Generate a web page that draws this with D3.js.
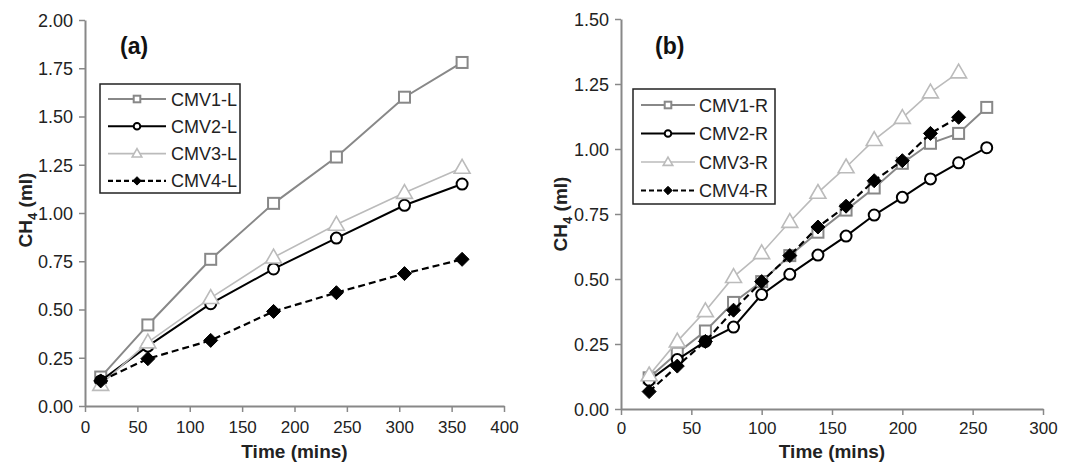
<!DOCTYPE html>
<html><head><meta charset="utf-8">
<script src="https://cdn.jsdelivr.net/npm/d3@7"></script>
<style>body{margin:0;background:#fff;}svg{display:block;font-family:Arial,"Liberation Sans",sans-serif;}</style>
</head><body>
<svg id="c" width="1070" height="462"></svg>
<script>
const timeL = [15, 60, 120, 180, 240, 305, 360];
const cmv1L = [0.15, 0.42, 0.76, 1.05, 1.29, 1.60, 1.78];
const cmv2L = [0.13, 0.31, 0.53, 0.71, 0.87, 1.04, 1.15];
const cmv3L = [0.11, 0.33, 0.56, 0.77, 0.94, 1.105, 1.235];
const cmv4L = [0.13, 0.245, 0.34, 0.49, 0.587, 0.686, 0.76];

const timeR = [20, 40, 60, 80, 100, 120, 140, 160, 180, 200, 220, 240, 260];
const cmv1R = [0.12, 0.215, 0.30, 0.41, 0.49, 0.59, 0.68, 0.765, 0.85, 0.945, 1.022, 1.06, 1.16];
const cmv2R = [0.11, 0.19, 0.26, 0.315, 0.44, 0.518, 0.592, 0.665, 0.746, 0.814, 0.885, 0.947, 1.005];
const cmv3R = [0.13, 0.26, 0.377, 0.508, 0.60, 0.72, 0.832, 0.93, 1.035, 1.12, 1.218, 1.295];
const cmv4R = [0.067, 0.165, 0.26, 0.38, 0.49, 0.59, 0.70, 0.78, 0.878, 0.955, 1.06, 1.122];

const xTicksL = [0, 50, 100, 150, 200, 250, 300, 350, 400];
const yTicksL = [0, 0.25, 0.5, 0.75, 1.0, 1.25, 1.5, 1.75, 2.0];
const xTicksR = [0, 50, 100, 150, 200, 250, 300];
const yTicksR = [0, 0.25, 0.5, 0.75, 1.0, 1.25, 1.5];

const styles = [
  {color:"#888888", width:2, dash:null, marker:"square"},
  {color:"#000000", width:2, dash:null, marker:"circle"},
  {color:"#bbbbbb", width:1.6, dash:null, marker:"triangle"},
  {color:"#000000", width:2.2, dash:"7,4", marker:"diamond"}
];

const svg = d3.select("#c");

function marker(g, type, color, x, y, big) {
  const s = big ? 1 : 0.6;
  if (type === "square") {
    g.append("rect").attr("x", x - 5.5*s).attr("y", y - 5.5*s).attr("width", 11*s).attr("height", 11*s)
      .attr("fill", "#fff").attr("stroke", color).attr("stroke-width", 2);
  } else if (type === "circle") {
    g.append("circle").attr("cx", x).attr("cy", y).attr("r", 5.5*s)
      .attr("fill", "#fff").attr("stroke", color).attr("stroke-width", 2);
  } else if (type === "triangle") {
    g.append("path").attr("d", d3.symbol().type(d3.symbolTriangle).size(110*s*s)())
      .attr("transform", `translate(${x},${y+1*s})`)
      .attr("fill", "#fff").attr("stroke", color).attr("stroke-width", 1.6);
  } else {
    const r = 7*s;
    g.append("path").attr("d", `M${x},${y-r}L${x+r},${y}L${x},${y+r}L${x-r},${y}Z`)
      .attr("fill", color).attr("stroke", color).attr("stroke-width", 1);
  }
}

function panel(opts) {
  const g = svg.append("g");
  const x = d3.scaleLinear().domain(opts.xDomain).range(opts.xRange);
  const y = d3.scaleLinear().domain(opts.yDomain).range(opts.yRange);

  const xa = g.append("g").attr("transform", `translate(0,${opts.yRange[0]})`)
    .call(d3.axisBottom(x).tickValues(opts.xTicks).tickSize(6).tickSizeOuter(0).tickFormat(d3.format("d")));
  const ya = g.append("g").attr("transform", `translate(${opts.xRange[0]},0)`)
    .call(d3.axisLeft(y).tickValues(opts.yTicks).tickSize(6).tickSizeOuter(0).tickFormat(d3.format(".2f")));
  [xa, ya].forEach(a => {
    a.select(".domain").attr("stroke", "#888").attr("stroke-width", 2);
    a.selectAll(".tick line").attr("stroke", "#888").attr("stroke-width", 1.5);
    a.selectAll(".tick text").attr("fill", "#222").style("font-size", "18px");
  });
  xa.selectAll(".tick text").style("font-size", "17px").attr("y", opts.xTickY).attr("dy", 0);
  ya.selectAll(".tick text").attr("x", -12).attr("dy", "0.35em");

  g.append("text").attr("x", (opts.xRange[0] + opts.xRange[1]) / 2).attr("y", 458)
    .attr("text-anchor", "middle").style("font-size", "19px").style("font-weight", "bold").attr("fill", "#222")
    .text("Time (mins)");
  const yl = g.append("text").attr("transform", `translate(${opts.yLabelX},${opts.yLabelY}) rotate(-90)`)
    .attr("text-anchor", "middle").style("font-size", "19px").style("font-weight", "bold").attr("fill", "#222");
  yl.append("tspan").text("CH");
  yl.append("tspan").text("4").attr("dy", 5).style("font-size", "13px");
  yl.append("tspan").text(" (ml)").attr("dy", -5);

  g.append("text").attr("x", opts.tagX).attr("y", 54).style("font-size", "23px").style("font-weight", "bold")
    .attr("fill", "#111").text(opts.tag);

  const line = d3.line().x(d => x(d[0])).y(d => y(d[1]));
  opts.series.forEach((vals, i) => {
    const st = styles[i];
    const pts = vals.map((v, k) => [opts.times[k], v]);
    g.append("path").attr("d", line(pts)).attr("fill", "none").attr("stroke", st.color)
      .attr("stroke-width", st.width).attr("stroke-dasharray", st.dash);
    pts.forEach(p => marker(g, st.marker, st.color, x(p[0]), y(p[1]), true));
  });

  // legend
  const L = opts.legend;
  g.append("rect").attr("x", L.x).attr("y", L.y).attr("width", L.w).attr("height", L.h)
    .attr("fill", "#fff").attr("stroke", "#222").attr("stroke-width", 1.5);
  opts.names.forEach((n, i) => {
    const st = styles[i];
    const ry = L.y + L.first + i * L.step;
    g.append("line").attr("x1", L.x + L.l1).attr("x2", L.x + L.l2).attr("y1", ry).attr("y2", ry)
      .attr("stroke", st.color).attr("stroke-width", st.width).attr("stroke-dasharray", st.dash ? "5,3" : null);
    marker(g, st.marker, st.color, L.x + (L.l1 + L.l2) / 2, ry, false);
    g.append("text").attr("x", L.x + L.tx).attr("y", ry + 6.5).style("font-size", "18px").attr("fill", "#222").text(n);
  });
}

panel({
  xDomain:[0,400], xRange:[85,504], yDomain:[0,2], yRange:[406,20],
  xTicks:xTicksL, yTicks:yTicksL, times:timeL, xTickY:27,
  series:[cmv1L, cmv2L, cmv3L, cmv4L],
  names:["CMV1-L","CMV2-L","CMV3-L","CMV4-L"],
  tag:"(a)", tagX:120, yLabelX:32, yLabelY:210,
  legend:{x:100, y:84, w:140, h:109, first:15, step:27.3, l1:8, l2:66, tx:71}
});
panel({
  xDomain:[0,300], xRange:[621,1043], yDomain:[0,1.5], yRange:[409,19],
  xTicks:xTicksR, yTicks:yTicksR, times:timeR, xTickY:25,
  series:[cmv1R, cmv2R, cmv3R, cmv4R],
  names:["CMV1-R","CMV2-R","CMV3-R","CMV4-R"],
  tag:"(b)", tagX:655, yLabelX:567, yLabelY:214,
  legend:{x:633, y:89, w:142, h:115, first:16, step:28.5, l1:8, l2:62, tx:66}
});
</script>
</body></html>
